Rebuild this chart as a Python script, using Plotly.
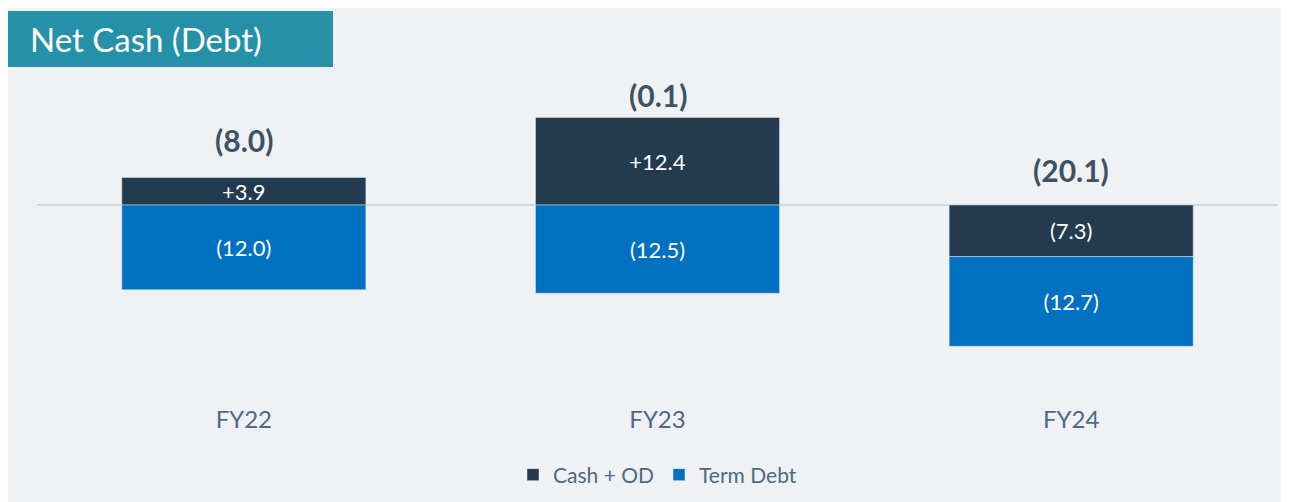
import plotly.graph_objects as go

# Dados (milhões)
anos = ["FY22", "FY23", "FY24"]
cash_od = [3.9, 12.4, -7.3]
term_debt = [-12.0, -12.5, -12.7]
net_cash = [-8.0, -0.1, -20.1]

COR_CASH = "#243a4f"
COR_TERM = "#0070c0"
COR_FUNDO = "#eff1f5"
COR_TEXTO = "#4a6a85"
FONTE = "Lato"

W, H = 1289, 502
ML, MR, MT, MB = 29, 19, 72, 110
Y_MIN, Y_MAX = -27.6, 17.7


def px_x(p):
    return (p - ML) / (W - ML - MR)


def px_y(p):
    return (H - MB - p) / (H - MT - MB)


def fmt(v, sinal=False):
    if v < 0:
        return f"({abs(v):.1f})"
    return f"+{v:.1f}" if sinal else f"{v:.1f}"


fig = go.Figure()
fig.add_trace(go.Bar(
    x=anos, y=cash_od, name="Cash + OD", marker_color=COR_CASH,
    text=[fmt(v, True) for v in cash_od], textposition="inside",
    insidetextanchor="middle", constraintext="none",
    textfont=dict(color="white", size=22, family=FONTE),
))
fig.add_trace(go.Bar(
    x=anos, y=term_debt, name="Term Debt", marker_color=COR_TERM,
    text=[fmt(v) for v in term_debt], textposition="inside",
    insidetextanchor="middle", constraintext="none",
    textfont=dict(color="white", size=22, family=FONTE),
))

# Totais acima das barras
deslocamentos = [37, 22, 35]
for ano, c, tot, dy in zip(anos, cash_od, net_cash, deslocamentos):
    fig.add_annotation(
        x=ano, y=max(c, 0), text=f"<b>{fmt(tot)}</b>", showarrow=False,
        yshift=dy, font=dict(size=30, color="#3d5266", family=FONTE),
    )

# Caixa do título
fig.add_shape(type="rect", xref="paper", yref="paper",
              x0=px_x(0), x1=px_x(325), y0=px_y(59), y1=px_y(3),
              fillcolor="#2591a9", line=dict(width=0), layer="below")
fig.add_annotation(
    xref="paper", yref="paper", x=px_x(20), y=px_y(31),
    xanchor="left", yanchor="middle", showarrow=False,
    text="Net Cash (Debt)", font=dict(size=33, color="white", family=FONTE),
)

fig.update_layout(
    width=W, height=H,
    barmode="relative", bargap=0.41,
    paper_bgcolor=COR_FUNDO, plot_bgcolor=COR_FUNDO,
    margin=dict(l=ML, r=MR, t=MT, b=MB),
    font=dict(family=FONTE, color=COR_TEXTO),
    xaxis=dict(showgrid=False, showline=False, ticks="",
               tickfont=dict(size=24, color=COR_TEXTO, family=FONTE),
               ticklabelstandoff=3),
    yaxis=dict(range=[Y_MIN, Y_MAX], showgrid=False, showticklabels=False,
               zeroline=True, zerolinecolor="#cadbe5", zerolinewidth=2,
               layer="above traces"),
    legend=dict(orientation="h", x=0.5, xanchor="center",
                y=px_y(467), yanchor="middle",
                font=dict(size=21, color=COR_TEXTO, family=FONTE),
                bgcolor="rgba(0,0,0,0)", itemwidth=30),
    showlegend=True,
)

fig.write_html("out.html")
